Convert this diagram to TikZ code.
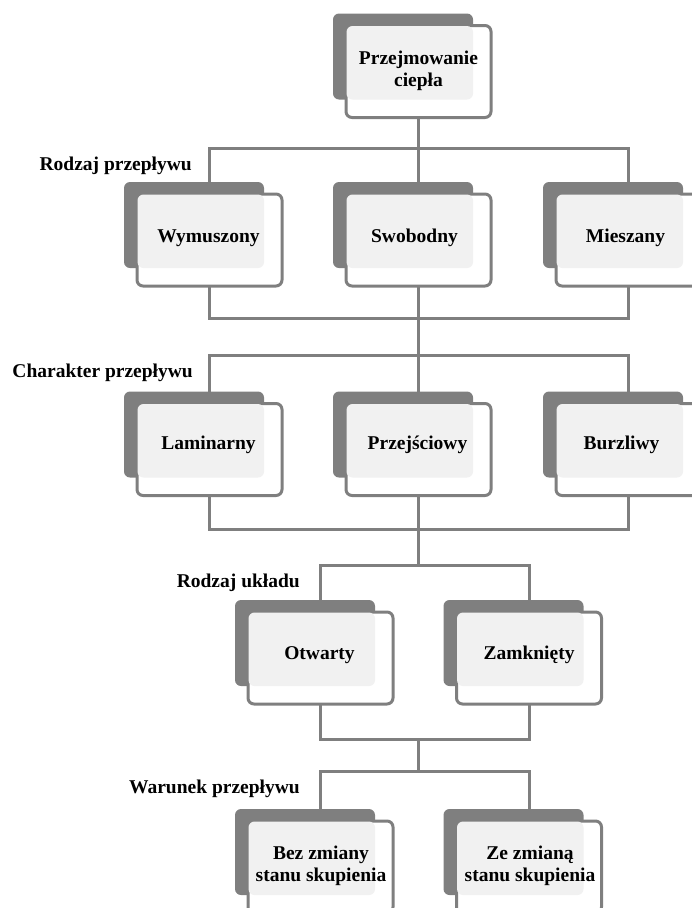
\documentclass[tikz,border=0pt]{standalone}
\usepackage{fontspec}
\setmainfont{Liberation Serif}
\definecolor{darkg}{HTML}{7F7F7F}
\definecolor{lineg}{HTML}{7F7F7F}
\definecolor{lightg}{HTML}{F1F1F1}
\tikzset{
  conn/.style={draw=lineg, line width=3pt},
  backbox/.style={fill=darkg, rounded corners=6pt, minimum width=140pt, minimum height=86pt, inner sep=0pt, outer sep=0pt},
  frontbox/.style={draw=lineg, fill=white, line width=3pt, rounded corners=6pt, minimum width=145pt, minimum height=92pt, inner sep=0pt, outer sep=0pt},
  shadebox/.style={fill=lightg, rounded corners=6pt, minimum width=126.5pt, minimum height=73.5pt, inner sep=0pt, outer sep=0pt},
  lbl/.style={font=\bfseries\fontsize{19.5}{22.5}\selectfont, inner sep=0pt, text=black},
}
\newcommand\mkcard[3]{%
  \node[backbox] (#1-b) at (#2-15.5,#3-15) {};
  \node[frontbox] (#1) at (#2,#3) {};
  \node[shadebox] (#1-g) at (#2-8.75,#3-8.75) {};
}
\begin{document}
\begin{tikzpicture}[x=1pt,y=-1pt]
\useasboundingbox (0,0) rectangle (692,908);
\clip (0,0) rectangle (692,908);

% bus coordinates
\coordinate (b1) at (418.5,148);
\coordinate (c1) at (418.5,318);
\coordinate (b2) at (418.5,355);
\coordinate (c2) at (418.5,529);
\coordinate (b3) at (418.5,565);
\coordinate (c3) at (418.5,739);
\coordinate (b4) at (418.5,771);

% cards
\mkcard{top}{418.5}{71.5}
\mkcard{wym}{209.5}{240}
\mkcard{swo}{418.5}{240}
\mkcard{mie}{628.5}{240}
\mkcard{lam}{209.5}{449.5}
\mkcard{prz}{418.5}{449.5}
\mkcard{bur}{628.5}{449.5}
\mkcard{otw}{320.5}{658}
\mkcard{zam}{529}{658}
\mkcard{bez}{320.5}{867}
\mkcard{zez}{529}{867}

% connectors level 1
\draw[conn] (top.south) -- (b1);
\draw[conn] (wym |- wym-b.north) -- (wym |- b1) -- (mie |- b1) -- (mie |- mie-b.north);
\draw[conn] (b1) -- (swo |- swo-b.north);
\draw[conn] (wym.south) -- (wym |- c1) -- (mie |- c1) -- (mie.south);
\draw[conn] (swo.south) -- (c1) -- (b2);
% level 2
\draw[conn] (lam |- lam-b.north) -- (lam |- b2) -- (bur |- b2) -- (bur |- bur-b.north);
\draw[conn] (b2) -- (prz |- prz-b.north);
\draw[conn] (lam.south) -- (lam |- c2) -- (bur |- c2) -- (bur.south);
\draw[conn] (prz.south) -- (c2) -- (b3);
% level 3
\draw[conn] (otw |- otw-b.north) -- (otw |- b3) -- (zam |- b3) -- (zam |- zam-b.north);
\draw[conn] (otw.south) -- (otw |- c3) -- (zam |- c3) -- (zam.south);
\draw[conn] (c3) -- (b4);
% level 4
\draw[conn] (bez |- bez-b.north) -- (bez |- b4) -- (zez |- b4) -- (zez |- zez-b.north);

% card texts
\node[lbl, align=center] (top-t) at ([yshift=0.5pt]top.center) {Przejmowanie\\ciepła};
\node[lbl, anchor=base] (wym-t) at ([xshift=-1pt,yshift=-2pt]wym.center) {Wymuszony};
\node[lbl, anchor=base] (swo-t) at ([xshift=-4pt,yshift=-2pt]swo.center) {Swobodny};
\node[lbl, anchor=base] (mie-t) at ([xshift=-3pt,yshift=-2pt]mie.center) {Mieszany};
\node[lbl, anchor=base] (lam-t) at ([xshift=-1pt,yshift=0pt]lam.center) {Laminarny};
\node[lbl, anchor=base] (prz-t) at ([xshift=-1pt,yshift=0pt]prz.center) {Przejściowy};
\node[lbl, anchor=base] (bur-t) at ([xshift=-7pt,yshift=0pt]bur.center) {Burzliwy};
\node[lbl, anchor=base] (otw-t) at ([xshift=-1pt,yshift=-1pt]otw.center) {Otwarty};
\node[lbl, anchor=base] (zam-t) at ([xshift=0pt,yshift=-1pt]zam.center) {Zamknięty};
\node[lbl, align=center] (bez-t) at ([xshift=0.5pt,yshift=1pt]bez.center) {Bez zmiany\\stanu skupienia};
\node[lbl, align=center] (zez-t) at ([xshift=1pt,yshift=1pt]zez.center) {Ze zmianą\\stanu skupienia};

% level labels
\node[lbl, anchor=base east] (l1) at (192,170) {Rodzaj przepływu};
\node[lbl, anchor=base east] (l2) at (193,377) {Charakter przepływu};
\node[lbl, anchor=base east] (l3) at (300,587) {Rodzaj układu};
\node[lbl, anchor=base east] (l4) at (300,793) {Warunek przepływu};
\end{tikzpicture}
\end{document}
